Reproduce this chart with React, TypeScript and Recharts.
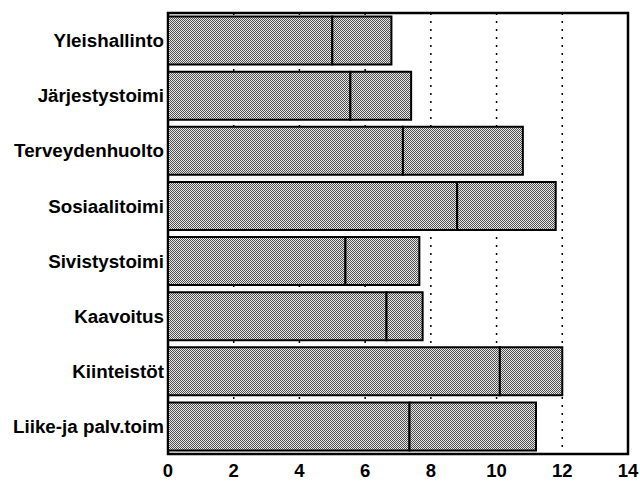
import { BarChart, Bar, XAxis, YAxis, CartesianGrid, ReferenceArea } from 'recharts';

const categories = [
  'Yleishallinto',
  'Järjestystoimi',
  'Terveydenhuolto',
  'Sosiaalitoimi',
  'Sivistystoimi',
  'Kaavoitus',
  'Kiinteistöt',
  'Liike-ja palv.toim',
];

// first (left) segment of each bar
const firstPart = [5.0, 5.55, 7.15, 8.8, 5.4, 6.65, 10.1, 7.35];
// second (right) segment of each bar
const secondPart = [1.8, 1.85, 3.65, 3.0, 2.25, 1.1, 1.9, 3.85];

const xTicks = [0, 2, 4, 6, 8, 10, 12, 14];

const data = categories.map((name, i) => ({
  name,
  first: firstPart[i],
  second: secondPart[i],
}));

const font = '"Liberation Sans", Arial, sans-serif';
const yTickStyle = { fontSize: 18.8, fontWeight: 700, fill: '#000', fontFamily: font };
const xTickStyle = { fontSize: 18.5, fontWeight: 700, fill: '#000', fontFamily: font };

export default function App() {
  return (
    <div style={{ position: 'fixed', left: 0, top: 0, width: 640, height: 482, background: '#fff' }}>
      <BarChart
        width={640}
        height={482}
        data={data}
        layout="vertical"
        margin={{ top: 13, right: 12, bottom: 0, left: 0 }}
        barCategoryGap="6.5%"
      >
        <defs>
          {/* halftone-like stipple used by both segments */}
          <pattern id="stipple" width="2" height="2" patternUnits="userSpaceOnUse">
            <rect width="2" height="2" fill="#e8e8e8" />
            <rect x="0" y="0" width="1" height="1" fill="#505050" />
            <rect x="1" y="1" width="1" height="1" fill="#505050" />
          </pattern>
        </defs>
        <CartesianGrid
          horizontal={false}
          stroke="#000"
          strokeWidth={1.5}
          strokeDasharray="2 6"
        />
        <XAxis
          type="number"
          domain={[0, 14]}
          ticks={xTicks}
          height={28}
          tickLine={false}
          axisLine={false}
          tickSize={6}
          tickMargin={4}
          tick={xTickStyle}
        />
        <YAxis
          type="category"
          dataKey="name"
          width={168}
          tickLine={false}
          axisLine={false}
          tickSize={0}
          tickMargin={4}
          tick={yTickStyle}
        />
        <Bar dataKey="first" stackId="a" fill="url(#stipple)" stroke="#000" strokeWidth={2} isAnimationActive={false} />
        <Bar dataKey="second" stackId="a" fill="url(#stipple)" stroke="#000" strokeWidth={2} isAnimationActive={false} />
        <ReferenceArea x1={0} x2={14} fill="none" stroke="#000" strokeWidth={2.5} ifOverflow="visible" />
      </BarChart>
    </div>
  );
}
